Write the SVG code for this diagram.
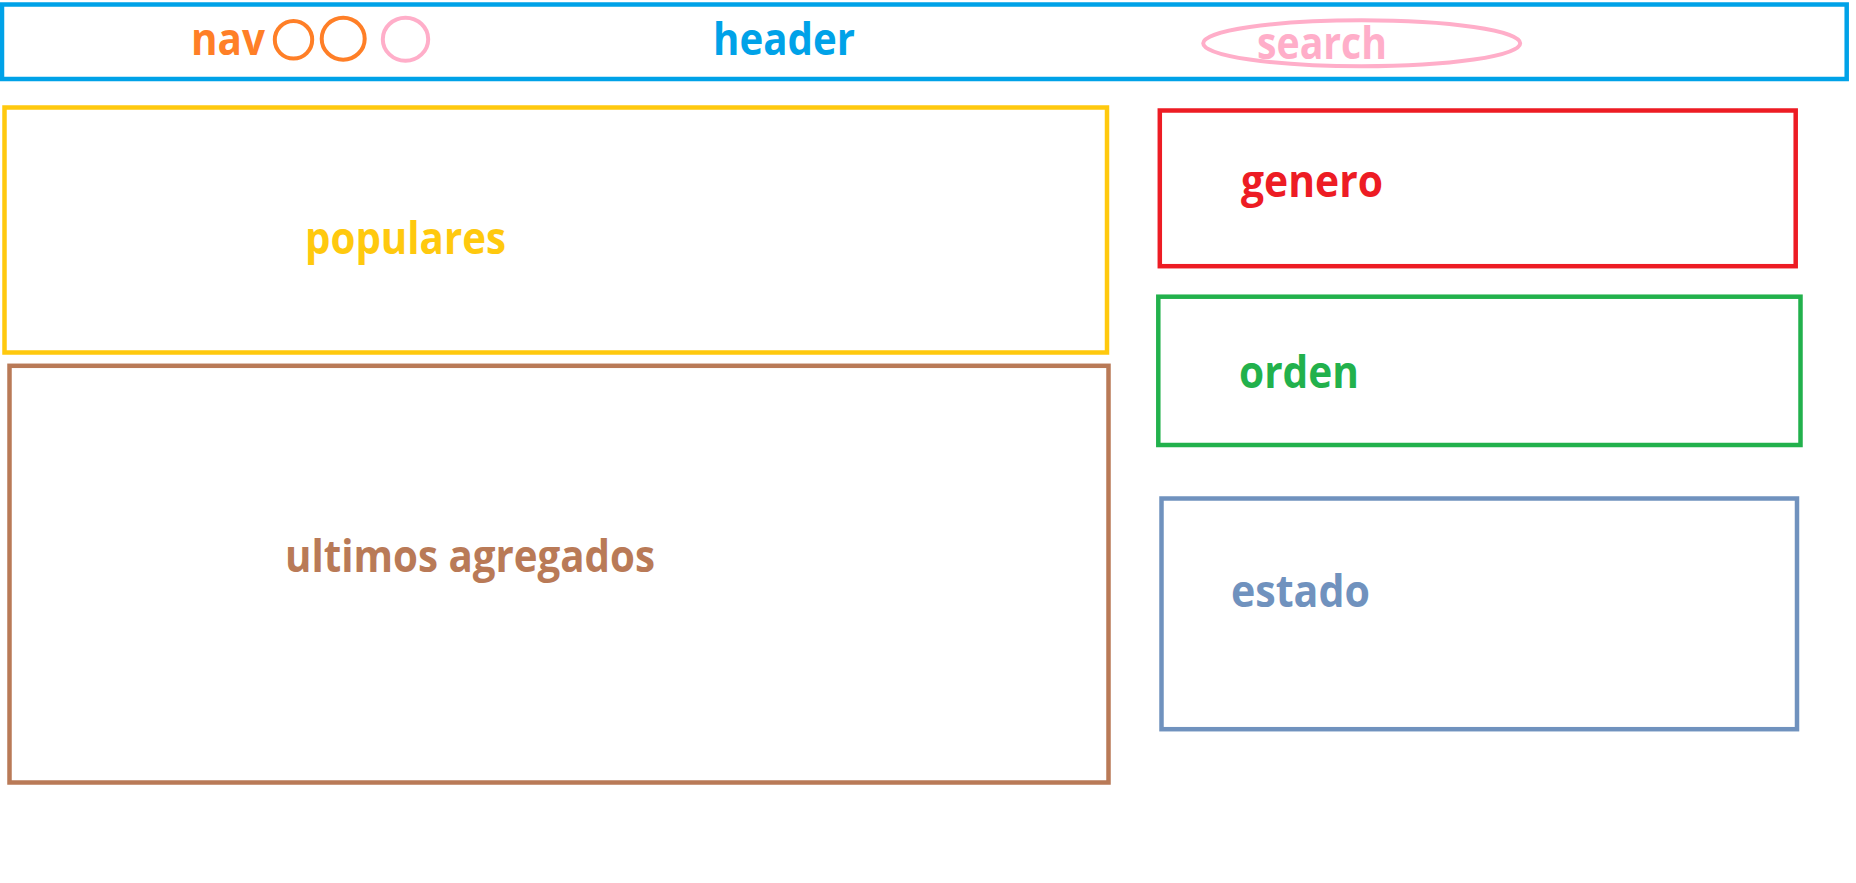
<svg xmlns="http://www.w3.org/2000/svg" width="1856" height="883" viewBox="0 0 1856 883">
<style>
.box{fill:none;stroke-width:4.5}
.ring{fill:none;stroke-width:4}
.lbl{font-family:"Open Sans","Noto Sans","Liberation Sans",sans-serif;font-weight:bold;font-size:45px}
</style>
<rect width="1856" height="883" fill="#ffffff"/>
<g id="header">
<rect class="box" x="2" y="4.5" width="1844.7" height="74.5" stroke="#00A2E8"/>
<text class="lbl" x="713" y="55" textLength="142" lengthAdjust="spacingAndGlyphs" fill="#00A2E8">header</text>
</g>
<g id="nav">
<text class="lbl" x="191" y="55" textLength="74" lengthAdjust="spacingAndGlyphs" fill="#FF7F27">nav</text>
<ellipse class="ring" cx="293.5" cy="39.8" rx="18.7" ry="18.8" stroke="#FF7F27"/>
<ellipse class="ring" cx="343.2" cy="38.7" rx="21.5" ry="21" stroke="#FF7F27"/>
<ellipse class="ring" cx="405.5" cy="39.2" rx="22.7" ry="21.5" stroke="#FFAEC9"/>
</g>
<g id="search">
<ellipse class="ring" cx="1361.7" cy="43.3" rx="158.5" ry="23" stroke="#FFAEC9"/>
<text class="lbl" x="1257" y="58.5" textLength="130" lengthAdjust="spacingAndGlyphs" fill="#FFAEC9">search</text>
</g>
<g id="populares">
<rect class="box" x="4.5" y="107.5" width="1102.5" height="245" stroke="#FFC90E"/>
<text class="lbl" x="305" y="254" textLength="201" lengthAdjust="spacingAndGlyphs" fill="#FFC90E">populares</text>
</g>
<g id="ultimos">
<rect class="box" x="9.5" y="365.8" width="1099" height="416.7" stroke="#B97A57"/>
<text class="lbl" x="285" y="571.7" textLength="370" lengthAdjust="spacingAndGlyphs" fill="#B97A57">ultimos agregados</text>
</g>
<g id="genero">
<rect class="box" x="1159.8" y="110.5" width="635.9" height="155.7" stroke="#ED1C24"/>
<text class="lbl" x="1241" y="196.7" textLength="142" lengthAdjust="spacingAndGlyphs" fill="#ED1C24">genero</text>
</g>
<g id="orden">
<rect class="box" x="1158.3" y="296.7" width="642.2" height="148.3" stroke="#22B14C"/>
<text class="lbl" x="1239" y="388.3" textLength="120" lengthAdjust="spacingAndGlyphs" fill="#22B14C">orden</text>
</g>
<g id="estado">
<rect class="box" x="1161.5" y="498.5" width="635.5" height="230.7" stroke="#7092BE"/>
<text class="lbl" x="1231" y="607.3" textLength="139" lengthAdjust="spacingAndGlyphs" fill="#7092BE">estado</text>
</g>
<g id="connectors"></g>
</svg>
